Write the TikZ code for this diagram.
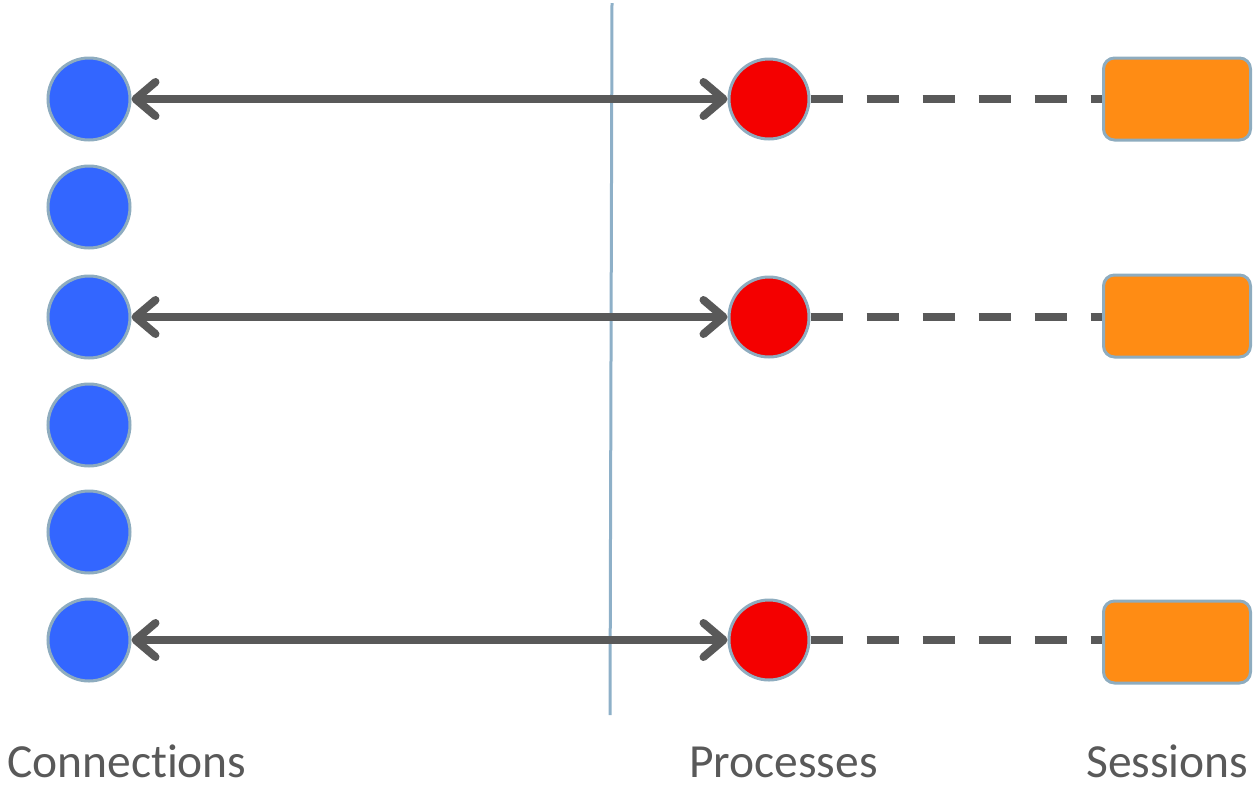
\documentclass[tikz,border=0pt]{standalone}
\usepackage{fontspec}
\setmainfont[Ligatures=NoCommon]{Carlito}
\usetikzlibrary{arrows.meta}
\definecolor{conblue}{HTML}{3366FF}
\definecolor{procred}{HTML}{F40000}
\definecolor{sessorange}{HTML}{FF8C14}
\definecolor{edgeblue}{HTML}{8EACBF}
\definecolor{linegray}{HTML}{595959}
\definecolor{divider}{HTML}{8EB0C8}
\tikzset{
  x=1pt, y=-1pt,
  conn/.style={circle, fill=conblue, draw=edgeblue, line width=3pt, minimum size=82pt, inner sep=0pt},
  proc/.style={circle, fill=procred, draw=edgeblue, line width=3pt, minimum size=80pt, inner sep=0pt},
  sess/.style={rectangle, rounded corners=11pt, fill=sessorange, draw=edgeblue, line width=3pt, minimum width=147pt, minimum height=82pt, inner sep=0pt},
  link/.style={draw=linegray, line width=8pt, {Straight Barb[length=20pt, width=34pt, line cap=round, line join=round]}-{Straight Barb[length=20pt, width=34pt, line cap=round, line join=round]}},
  bind/.style={draw=linegray, line width=8pt, dash pattern=on 32pt off 24pt},
  lbl/.style={text=linegray, font=\fontsize{47.5}{56}\selectfont, inner sep=0pt, anchor=base west},
}
\begin{document}
\begin{tikzpicture}
\useasboundingbox (0,0) rectangle (1256,788);
\coordinate (dtop) at (612,3);
\coordinate (dbot) at (610,715);
\draw[divider, line width=3pt] (dtop) -- (dbot);
\node[conn] (c1) at (89,99) {};
\node[conn] (c2) at (89,207) {};
\node[conn] (c3) at (89,317) {};
\node[conn] (c4) at (89,425) {};
\node[conn] (c5) at (89,532) {};
\node[conn] (c6) at (89,640) {};
\node[proc] (p1) at (769,99) {};
\node[proc] (p2) at (769,317) {};
\node[proc] (p3) at (769,640) {};
\node[sess] (s1) at (1177,99) {};
\node[sess] (s2) at (1177,316) {};
\node[sess] (s3) at (1177,642) {};
\draw[link] (c1) -- (p1);
\draw[link] (c3) -- (p2);
\draw[link] (c6) -- (p3);
\draw[bind] (p1.east) -- (s1.west);
\draw[bind] (p2.east) -- (s2.west |- p2.east);
\draw[bind] (p3.east) -- (s3.west |- p3.east);
\node[lbl] (lc) at (7,777) {Connections};
\node[lbl] (lp) at (689,777) {Processes};
\node[lbl] (ls) at (1086,777) {Sessions};
\end{tikzpicture}
\end{document}
